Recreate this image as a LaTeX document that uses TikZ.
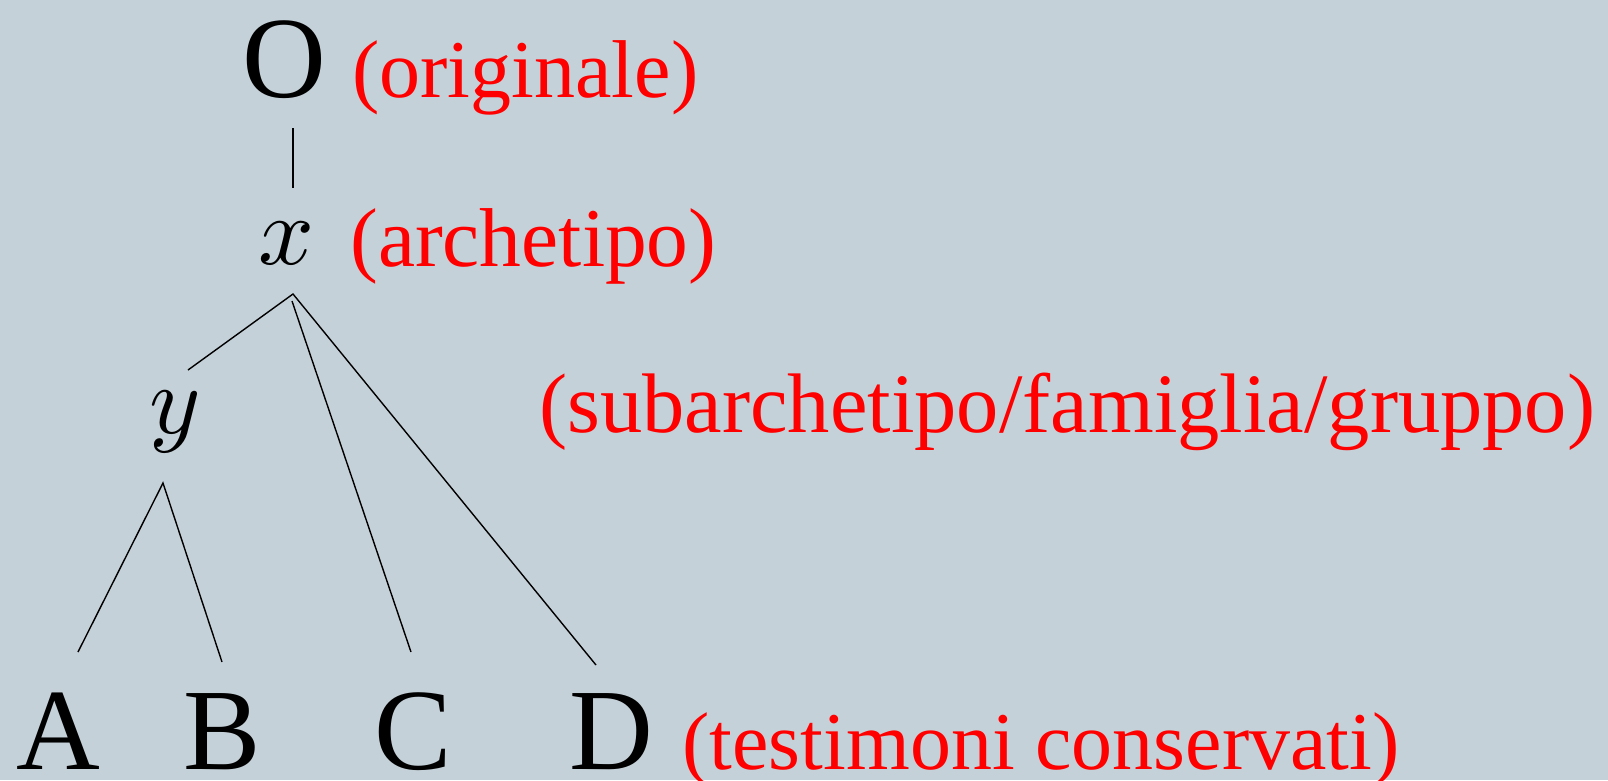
\documentclass[tikz,border=0pt]{standalone}
\usepackage{fontspec}
\usepackage{unicode-math}
\setmainfont{Liberation Serif}
\setmathfont{Latin Modern Math}
\usetikzlibrary{positioning}
\definecolor{slide}{RGB}{197,209,216}
\tikzset{
  letter/.style={inner sep=0pt, anchor=base, font=\fontsize{116}{116}\selectfont},
  var/.style={inner sep=0pt, anchor=base, font=\fontsize{98}{98}\selectfont},
  gloss/.style={inner sep=0pt, anchor=base west, text=red, font=\fontsize{82}{82}\selectfont},
  branch/.style={line width=1.4pt}
}

\begin{document}
\begin{tikzpicture}[x=1pt,y=-1pt]
\fill[slide] (0,0) rectangle (1608,780);
\useasboundingbox (0,0) rectangle (1608,780);
% stemma
\node[letter] (O) at (284,97) {O};
\node[gloss] (orig) at (352,97) {(originale)};
\node[var] (x) at (287,264) {$x$};
\node[gloss, font=\fontsize{83.5}{84}\selectfont] (arch) at (350,266) {(archetipo)};
\node[var] (y) at (175,433) {$y$};
\node[gloss, font=\fontsize{84.5}{85}\selectfont] (sub) at (539,432) {(subarchetipo/famiglia/gruppo)};
\node[letter] (A) at (58,769) {A};
\node[letter] (B) at (222,769) {B};
\node[letter] (C) at (413,769) {C};
\node[letter] (D) at (611,769) {D};
\node[gloss] (test) at (682,769) {(testimoni conservati)};
% ends of the branches
\coordinate (O-s) at (293,128);
\coordinate (x-n) at (293,188);
\coordinate (x-s) at (293,294);
\coordinate (x-c) at (292,301);
\coordinate (y-n) at (188,370);
\coordinate (y-s) at (163,483);
\coordinate (A-n) at (78,652);
\coordinate (B-n) at (222,662);
\coordinate (C-n) at (411,652);
\coordinate (D-n) at (596,665);
\draw[branch] (O-s) -- (x-n);
\draw[branch] (y-n) -- (x-s) -- (D-n);
\draw[branch] (x-c) -- (C-n);
\draw[branch] (A-n) -- (y-s) -- (B-n);
\end{tikzpicture}
\end{document}
